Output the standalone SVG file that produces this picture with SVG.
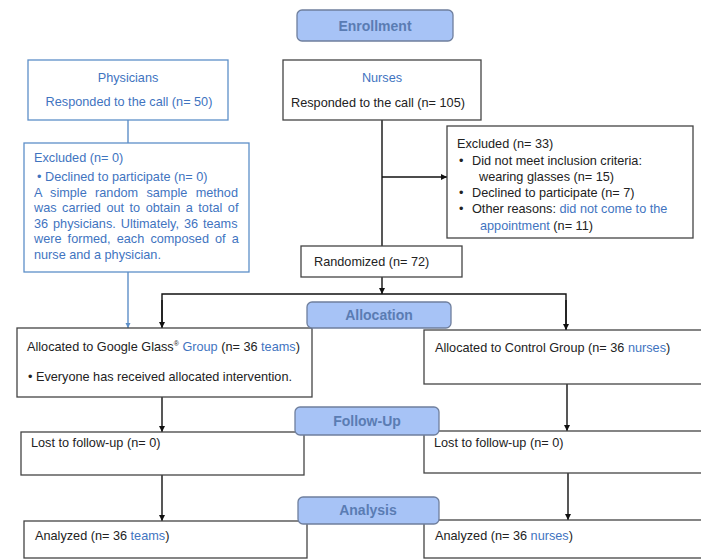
<svg xmlns="http://www.w3.org/2000/svg" width="701" height="560" viewBox="0 0 701 560">
  <style>
    text { font-family: "Liberation Sans", Arial, sans-serif; font-size: 12.7px; fill: #222; }
    .blue { fill: #3f74bf; }
    .box { fill: #fff; stroke: #444; stroke-width: 1.3; }
    .pbox { fill: #fff; stroke: #5d8fc8; stroke-width: 1.3; }
    .stage { fill: #a7c3f6; stroke: #6f7f9d; stroke-width: 1.3; }
    .stage-t { font-weight: bold; fill: #5a7cb3; font-size: 14px; text-anchor: middle; }
    .mid { text-anchor: middle; }
    .ln { fill: none; stroke: #111; stroke-width: 1.4; }
    .lnb { fill: none; stroke: #5d8fc8; stroke-width: 1.4; }
  </style>
  <defs>
    <marker id="arr" markerWidth="8" markerHeight="8" refX="6" refY="4" orient="auto" markerUnits="userSpaceOnUse">
      <path d="M0,1 L6,4 L0,7 Z" fill="#111"/>
    </marker>
    <marker id="arrb" markerWidth="8" markerHeight="8" refX="5" refY="3" orient="auto" markerUnits="userSpaceOnUse">
      <path d="M0,0.5 L5,3 L0,5.5 Z" fill="#5d8fc8"/>
    </marker>
  </defs>

  <!-- connectors -->
  <g id="connectors">
    <line class="lnb" x1="128" y1="120" x2="128" y2="143"/>
    <line class="lnb" x1="128" y1="272" x2="128" y2="328" marker-end="url(#arrb)"/>
    <line class="ln" x1="382" y1="120" x2="382" y2="246"/>
    <line class="ln" x1="382" y1="177" x2="447" y2="177" marker-end="url(#arr)"/>
    <line class="ln" x1="382" y1="277" x2="382" y2="294" marker-end="url(#arr)"/>
    <polyline class="ln" points="162,328 162,294 566,294 566,330"/>
    <line class="ln" x1="162" y1="300" x2="162" y2="328" marker-end="url(#arr)"/>
    <line class="ln" x1="566" y1="300" x2="566" y2="330" marker-end="url(#arr)"/>
    <line class="ln" x1="162" y1="397" x2="162" y2="432" marker-end="url(#arr)"/>
    <line class="ln" x1="567" y1="384" x2="567" y2="431" marker-end="url(#arr)"/>
    <line class="ln" x1="162" y1="475" x2="162" y2="521" marker-end="url(#arr)"/>
    <line class="ln" x1="568" y1="473" x2="568" y2="520" marker-end="url(#arr)"/>
  </g>

  <!-- enrollment -->
  <g id="physicians">
    <rect class="pbox" x="28" y="60" width="200" height="60"/>
    <text class="mid blue" x="128" y="82">Physicians</text>
    <text class="mid blue" x="129" y="106">Responded to the call (n= 50)</text>
  </g>

  <g id="nurses">
    <rect class="box" x="283" y="60" width="198" height="60"/>
    <text class="mid blue" x="382" y="82">Nurses</text>
    <text class="mid" x="378" y="107">Responded to the call (n= 105)</text>
  </g>

  <g id="physicians-excluded">
    <rect class="pbox" x="24" y="143" width="225" height="129"/>
    <text class="blue" x="34" y="162">Excluded (n= 0)</text>
    <text class="blue" x="37" y="181">•  Declined to participate (n= 0)</text>
    <text class="blue" x="34" y="197" word-spacing="4.8">A simple random sample method</text>
    <text class="blue" x="34" y="212" word-spacing="2">was carried out to obtain a total of</text>
    <text class="blue" x="34" y="228" word-spacing="1.4">36 physicians. Ultimately, 36 teams</text>
    <text class="blue" x="34" y="243" word-spacing="2.6">were formed, each composed of a</text>
    <text class="blue" x="34" y="259">nurse and a physician.</text>
  </g>

  <g id="nurses-excluded">
    <rect class="box" x="447" y="126" width="246" height="112"/>
    <text x="457" y="148">Excluded (n= 33)</text>
    <text x="459" y="165">•</text>
    <text x="472" y="165">Did not meet inclusion criteria:</text>
    <text x="479" y="181">wearing glasses  (n= 15)</text>
    <text x="459" y="197">•</text>
    <text x="472" y="197">Declined to participate (n= 7)</text>
    <text x="459" y="213">•</text>
    <text x="472" y="213">Other reasons: <tspan class="blue">did not come to the</tspan></text>
    <text x="480" y="230"><tspan class="blue">appointment</tspan> (n= 11)</text>
  </g>

  <g id="randomized">
    <rect class="box" x="301" y="246" width="161" height="31"/>
    <text x="314" y="266">Randomized (n= 72)</text>
  </g>

  <!-- allocation -->
  <g id="google-glass-group">
    <rect class="box" x="17" y="328" width="295" height="69"/>
    <text x="27" y="351">Allocated to Google Glass<tspan font-size="7" dy="-5">®</tspan><tspan dy="5" class="blue"> Group</tspan> (n= 36 <tspan class="blue">teams</tspan>)</text>
    <text x="28" y="381">• Everyone has received allocated intervention.</text>
  </g>

  <g id="control-group">
    <rect class="box" x="424" y="330" width="290" height="54"/>
    <text x="435" y="352">Allocated to Control Group (n= 36 <tspan class="blue">nurses</tspan>)</text>
  </g>

  <!-- follow-up -->
  <g id="lost-glass">
    <rect class="box" x="21" y="432" width="283" height="43"/>
    <text x="31" y="447">Lost to follow-up (n= 0)</text>
  </g>

  <g id="lost-control">
    <rect class="box" x="424" y="431" width="290" height="42"/>
    <text x="434" y="447">Lost to follow-up (n= 0)</text>
  </g>

  <!-- analysis -->
  <g id="analyzed-glass">
    <rect class="box" x="24" y="521" width="283" height="37"/>
    <text x="35" y="540">Analyzed (n= 36 <tspan class="blue">teams</tspan>)</text>
  </g>

  <g id="analyzed-control">
    <rect class="box" x="424" y="520" width="290" height="38"/>
    <text x="435" y="540">Analyzed (n= 36 <tspan class="blue">nurses</tspan>)</text>
  </g>

  <!-- stage labels -->
  <g id="stage-enrollment">
    <rect class="stage" x="297" y="10" width="156" height="31" rx="5"/>
    <text class="stage-t" x="375" y="31">Enrollment</text>
  </g>
  <g id="stage-allocation">
    <rect class="stage" x="307" y="302" width="144" height="26" rx="5"/>
    <text class="stage-t" x="379" y="320">Allocation</text>
  </g>
  <g id="stage-follow-up">
    <rect class="stage" x="295" y="407" width="144" height="28" rx="5"/>
    <text class="stage-t" x="367" y="426">Follow-Up</text>
  </g>
  <g id="stage-analysis">
    <rect class="stage" x="298" y="497" width="141" height="27" rx="5"/>
    <text class="stage-t" x="368" y="515">Analysis</text>
  </g>
</svg>
